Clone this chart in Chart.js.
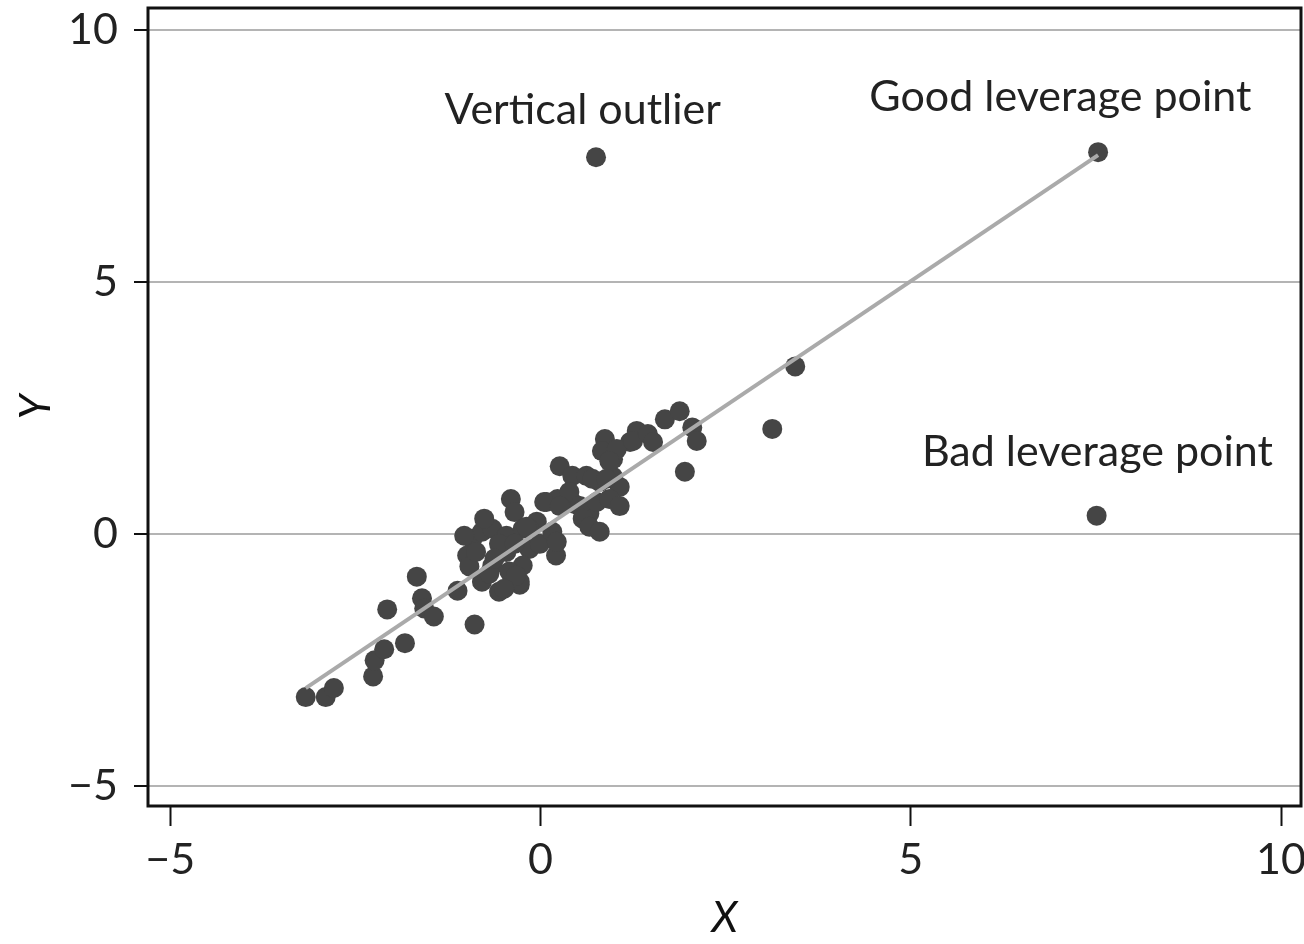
<!DOCTYPE html>
<html>
<head>
<meta charset="utf-8">
<script src="https://cdn.jsdelivr.net/npm/chart.js@4.4.1/dist/chart.umd.min.js"></script>
<style>
  html, body { margin: 0; padding: 0; background: #fff; overflow: hidden; }
  canvas { display: block; }
</style>
</head>
<body>
<canvas id="chart" width="1304" height="944"></canvas>
<script>
// ---- data ----
const ptsX = [
  -3.17, -2.90, -2.79, -2.26, -2.24, -2.11, -1.83, -2.07, -1.67, -1.60,
  -1.57, -1.44, -1.12, -0.89, -0.56, -0.28,
  -0.40, -0.35, 0.08, 0.23, 0.21, -0.92, -0.99, -0.96, -0.79, -0.65,
  -0.46, -0.24, -0.05, -0.15, -0.24, -0.79, -0.28, -0.65, -0.87, -0.46,
  -0.42, -0.76, -0.56, -0.69, -0.35, -0.15,
  -0.33, -0.19, -1.03, -0.62, -0.01, 0.46, 0.66, -0.49,
  0.89, 0.98, 1.21, 0.26, 0.43, 0.62, 0.80, 0.98, 1.07, 0.39,
  0.05, 0.26, 0.53, 0.76, 0.93, 0.57, 0.66, 0.80, 0.16, 0.22, 1.07,
  0.87, 0.83, 1.03, 0.93, 1.30, 1.25, 1.45, 1.52, 1.68, 1.88, 2.05,
  2.11, 1.95, 0.70, 0.89,
  3.13, 3.44,
  0.75, 7.53, 7.51
];
const ptsY = [
  -3.24, -3.24, -3.06, -2.83, -2.51, -2.29, -2.17, -1.50, -0.85, -1.28,
  -1.48, -1.64, -1.13, -1.80, -1.15, -1.01,
  0.69, 0.43, 0.63, 0.69, -0.43, -0.10, -0.43, -0.65, 0.04, 0.10,
  -0.04, 0.10, 0.24, -0.30, -0.63, -0.95, -0.95, -0.63, -0.36, -0.36,
  -0.75, 0.30, -0.20, -0.79, -0.20, 0.10,
  -0.83, 0.14, -0.04, -0.49, -0.20, 0.59, 0.40, -1.09,
  1.75, 1.48, 1.82, 1.34, 1.15, 1.15, 1.03, 1.13, 0.93, 0.83,
  0.63, 0.55, 0.55, 0.63, 0.69, 0.30, 0.14, 0.04, 0.04, -0.16, 0.55,
  1.88, 1.64, 1.68, 1.44, 2.04, 1.84, 1.98, 1.82, 2.27, 2.43, 2.11,
  1.84, 1.23, 1.09, 1.09,
  2.08, 3.32,
  7.47, 7.57, 0.36
];
// fitted line end points
const fitX = [-3.17, 7.53];
const fitY = [-3.06, 7.51];
// annotations
const noteText = ["Vertical outlier", "Good leverage point", "Bad leverage point"];
const noteX = [0.57, 7.02, 7.52];
const noteY = [8.40, 8.66, 1.62];
const tickVals = [-5, 0, 5, 10];

const FONT = "Lato";
const SIZE = 43;

// no extra room for overflowing tick labels
function noPad(s) {
  s.paddingTop = 0; s.paddingBottom = 0; s.paddingLeft = 0; s.paddingRight = 0;
}

// frame + labels
const extras = {
  id: "extras",
  afterDraw(chart) {
    const { ctx, chartArea: a, scales } = chart;
    ctx.save();
    ctx.strokeStyle = "#111";
    ctx.lineWidth = 3;
    ctx.strokeRect(a.left, a.top, a.right - a.left, a.bottom - a.top);
    ctx.fillStyle = "#222";
    ctx.font = SIZE + "px " + FONT;
    ctx.textAlign = "center";
    ctx.textBaseline = "middle";
    noteText.forEach((t, i) => {
      ctx.fillText(t, scales.x.getPixelForValue(noteX[i]), scales.y.getPixelForValue(noteY[i]));
    });
    ctx.restore();
  }
};

new Chart(document.getElementById("chart"), {
  type: "scatter",
  data: {
    datasets: [
      {
        type: "line",
        data: fitX.map((x, i) => ({ x: x, y: fitY[i] })),
        borderColor: "#aaaaaa",
        borderWidth: 4,
        pointRadius: 0,
        order: 0
      },
      {
        data: ptsX.map((x, i) => ({ x: x, y: ptsY[i] })),
        backgroundColor: "#454545",
        borderWidth: 0,
        pointRadius: 10,
        order: 1
      }
    ]
  },
  options: {
    responsive: false,
    animation: false,
    layout: { autoPadding: false, padding: { top: 8, right: 3, left: 0, bottom: 0 } },
    plugins: { legend: { display: false }, tooltip: { enabled: false } },
    scales: {
      x: {
        type: "linear",
        min: -5.3,
        max: 10.27,
        afterBuildTicks: (s) => { s.ticks = tickVals.map((v) => ({ value: v })); },
        afterFit: (s) => { s.height = 138; noPad(s); },
        grid: { drawOnChartArea: false, drawTicks: true, tickLength: 20, tickColor: "#111", tickWidth: 2 },
        border: { display: false },
        ticks: {
          color: "#222",
          font: { family: FONT, size: SIZE },
          padding: 8,
          maxRotation: 0,
          callback: (v) => (v < 0 ? "\u2212" + Math.abs(v) : String(v))
        },
        title: {
          display: true,
          text: "X",
          color: "#111",
          font: { family: FONT, size: SIZE, style: "italic" },
          padding: { top: 0, bottom: 0 }
        }
      },
      y: {
        type: "linear",
        min: -5.4,
        max: 10.43,
        afterBuildTicks: (s) => { s.ticks = tickVals.map((v) => ({ value: v })); },
        afterFit: (s) => { s.width = 148; noPad(s); },
        grid: { color: "#b4b4b4", lineWidth: 2, drawTicks: true, tickLength: 14, tickColor: "#111", tickWidth: 2 },
        border: { display: false },
        ticks: {
          color: "#222",
          font: { family: FONT, size: SIZE },
          padding: 16,
          callback: (v) => (v < 0 ? "\u2212" + Math.abs(v) : String(v))
        },
        title: {
          display: true,
          text: "Y",
          color: "#111",
          font: { family: FONT, size: SIZE, style: "italic" },
          padding: { top: 10, bottom: 0 }
        }
      }
    }
  },
  plugins: [extras]
});
</script>
</body>
</html>
